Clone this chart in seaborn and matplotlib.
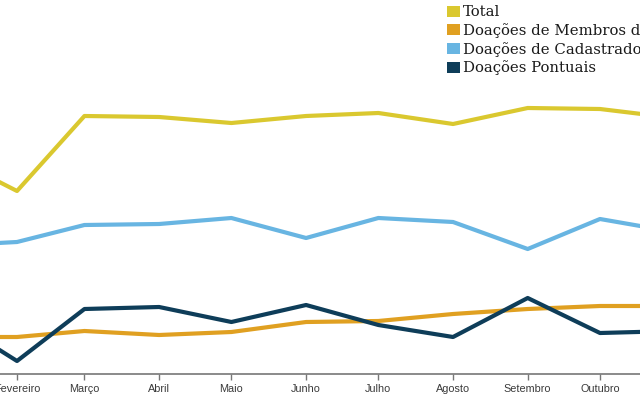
import matplotlib
matplotlib.use("Agg")
import matplotlib.pyplot as plt
from matplotlib.patches import Patch
import seaborn as sns
import pandas as pd

# ---- data ----
months = ["2023-01-01", "2023-02-01", "2023-03-01", "2023-04-01", "2023-05-01", "2023-06-01",
          "2023-07-01", "2023-08-01", "2023-09-01", "2023-10-01", "2023-11-01"]
month_labels = ["Janeiro", "Fevereiro", "Março", "Abril", "Maio", "Junho",
                "Julho", "Agosto", "Setembro", "Outubro", "Novembro"]
total = [22100, 18300, 25800, 25700, 25100, 25800, 26100, 25000, 26600, 26500, 25600]
membros = [3700, 3700, 4300, 3900, 4200, 5200, 5300, 6000, 6500, 6800, 6800]
cadastrados = [12800, 13200, 14900, 15000, 15600, 13600, 15600, 15200, 12500, 15500, 14200]
pontuais = [6000, 1300, 6500, 6700, 5200, 6900, 4900, 3700, 7600, 4100, 4300]

series_names = ["Total", "Doações de Membros da Igreja", "Doações de Cadastrados", "Doações Pontuais"]
colors = ["#DAC82F", "#E0A021", "#68B5E2", "#0E3D59"]

df = pd.DataFrame({
    "data": pd.to_datetime(months * 4),
    "valor": total + membros + cadastrados + pontuais,
    "serie": sum([[n] * len(months) for n in series_names], []),
})

sns.set_theme(style="white")
plt.rcParams["font.family"] = ["Liberation Sans", "DejaVu Sans"]

W, H = 640, 400
fig = plt.figure(figsize=(6.4, 4.0), dpi=100)
ax = fig.add_axes([0, (H - 374) / H, 1, 374 / H])

sns.lineplot(data=df, x="data", y="valor", hue="serie", hue_order=series_names,
             palette=colors, linewidth=3.0, ax=ax, legend=False)

# visible month ticks only (Fevereiro .. Outubro)
vis = slice(1, 10)
ax.set_xticks(pd.to_datetime(months[vis]))
ax.set_xticklabels(month_labels[vis])
ax.set_yticks([])

feb1 = pd.Timestamp("2023-02-01")
px_per_day = 2.409
left = feb1 - pd.Timedelta(days=17 / px_per_day)
right = feb1 + pd.Timedelta(days=(W - 17) / px_per_day)
ax.set_xlim(left, right)
ax.set_ylim(0, 37400)

ax.set_xlabel("")
ax.set_ylabel("")
for s in ["top", "right", "left"]:
    ax.spines[s].set_visible(False)
ax.spines["bottom"].set_color("#777777")
ax.spines["bottom"].set_linewidth(1.2)
ax.tick_params(axis="x", direction="out", length=4, width=1.0, color="#777777",
               labelsize=7.8, labelcolor="#3a3a3a", pad=3, bottom=True)

handles = [Patch(facecolor=c, edgecolor="none") for c in colors]
fig.legend(handles, series_names, loc="upper left", bbox_to_anchor=(447 / W, 1 - 5.5 / H),
           frameon=False, borderpad=0, borderaxespad=0, handlelength=0.9, handleheight=0.75,
           handletextpad=0.2, labelspacing=0.25,
           prop={"family": "DejaVu Serif", "size": 10.7})
for t in fig.legends[0].get_texts():
    t.set_color("#1a1a1a")

fig.savefig("out.png", dpi=100)
